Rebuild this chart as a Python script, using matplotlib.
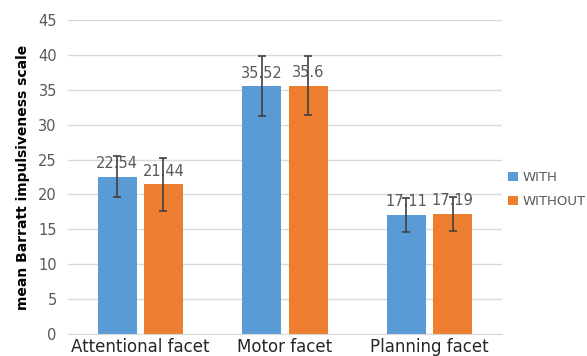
import matplotlib
matplotlib.use("Agg")
import matplotlib.pyplot as plt
import numpy as np

categories = ["Attentional facet", "Motor facet", "Planning facet"]
series_names = ["WITH", "WITHOUT"]
with_vals = [22.54, 35.52, 17.11]
without_vals = [21.44, 35.6, 17.19]
with_err = [2.9, 4.3, 2.45]
without_err = [3.8, 4.2, 2.4]
yticks = [0, 5, 10, 15, 20, 25, 30, 35, 40, 45]

colors = ["#5B9BD5", "#ED7D31"]
txt = "#595959"

fig = plt.figure(figsize=(5.87, 3.56), dpi=100)
ax = fig.add_axes([0.1158, 0.0618, 0.7392, 0.882])

x = np.arange(len(categories))
w = 0.27
off = 0.16
for vals, errs, c, sgn, name in [(with_vals, with_err, colors[0], -1, series_names[0]),
                                 (without_vals, without_err, colors[1], 1, series_names[1])]:
    pos = x + sgn * off
    ax.bar(pos, vals, width=w, color=c, label=name, zorder=2)
    ax.errorbar(pos, vals, yerr=errs, fmt="none", ecolor="#404040",
                elinewidth=1.2, capsize=3, capthick=1.2, zorder=3)
    for p, v in zip(pos, vals):
        ax.annotate(f"{v:g}", (p, v), xytext=(0, 4), textcoords="offset points",
                    ha="center", va="bottom", fontsize=10.5, color=txt, zorder=1)

ax.set_xlim(-0.5, 2.5)
ax.set_ylim(0, 45)
ax.set_yticks(yticks)
ax.set_xticks(x)
ax.set_xticklabels(categories, fontsize=12, color="#262626")
ax.tick_params(axis="y", labelsize=10.5, labelcolor=txt, length=0, pad=8)
ax.tick_params(axis="x", length=0, pad=3)
ax.yaxis.grid(True, color="#D9D9D9", linewidth=1, zorder=0)
ax.set_axisbelow(True)
for s in ["top", "right", "left"]:
    ax.spines[s].set_visible(False)
ax.spines["bottom"].set_color("#D9D9D9")
ax.set_ylabel("mean Barratt impulsiveness scale", fontsize=10, fontweight="bold",
              color="#000000", labelpad=6)

leg = ax.legend(loc="center left", bbox_to_anchor=(1.0, 0.46), frameon=False,
                fontsize=9.5, handlelength=0.7, handleheight=0.7, handletextpad=0.35,
                labelspacing=0.8, borderaxespad=0.1)
for t in leg.get_texts():
    t.set_color(txt)

fig.savefig("out.png", dpi=100)
